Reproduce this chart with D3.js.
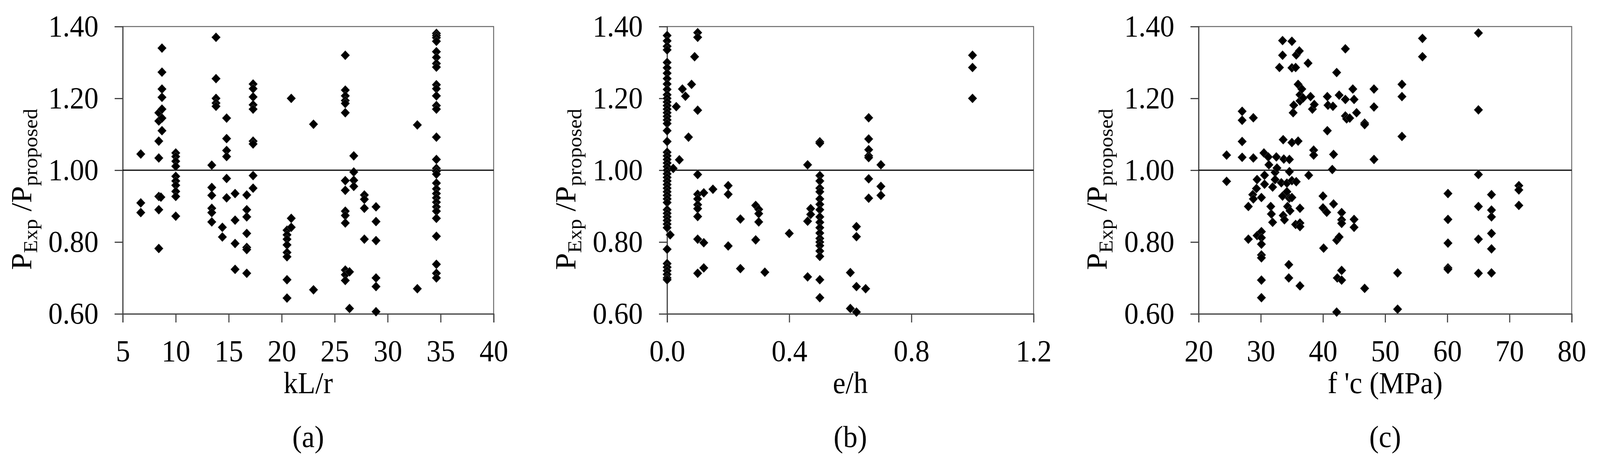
<!DOCTYPE html>
<html>
<head>
<meta charset="utf-8">
<script src="https://d3js.org/d3.v7.min.js"></script>
<style>
    html, body { margin: 0; padding: 0; background: #fff; overflow: hidden; width: 100%; height: 100%; }
    svg { display: block; width: 100vw; height: 100vh; }
    svg text { font-family: "Liberation Serif", "Times New Roman", serif; fill: #000; }
</style>
</head>
<body>
<svg id="chart" viewBox="0 0 4353 1186" preserveAspectRatio="none"></svg>
<script>
// ---- data: [x, ratio] ----
var ticksA = [5, 10, 15, 20, 25, 30, 35, 40];
var ticksB = [0.0, 0.4, 0.8, 1.2];
var ticksC = [20, 30, 40, 50, 60, 70, 80];
var ticksY = [0.6, 0.8, 1.0, 1.2, 1.4];

var pointsA = [
    [6.7, 1.045], [6.7, 0.909], [6.7, 0.882],
    [8.4, 1.081], [8.4, 1.034], [8.4, 0.927], [8.4, 0.89], [8.4, 0.782], [8.4, 1.16], [8.4, 1.137],
    [8.7, 1.34], [8.7, 1.273], [8.7, 1.226], [8.7, 1.203], [8.7, 1.17], [8.7, 1.145], [8.7, 1.11], [8.6, 0.925],
    [10, 1.048], [10, 1.038], [10, 1.025], [10, 1.011], [10, 0.983], [10, 0.97], [10, 0.958], [10, 0.941], [10, 0.927], [10, 0.872],
    [13.4, 1.014], [13.4, 0.952], [13.4, 0.93], [13.4, 0.894], [13.4, 0.882], [13.4, 0.856],
    [13.8, 1.37], [13.8, 1.255], [13.8, 1.2], [13.8, 1.187], [13.8, 1.178],
    [14.4, 0.841], [14.4, 0.814],
    [14.8, 1.145], [14.8, 1.088], [14.8, 1.055], [14.8, 1.038], [14.8, 0.977], [14.8, 0.923],
    [15.6, 0.935], [15.6, 0.861], [15.6, 0.796], [15.6, 0.724],
    [16.7, 0.931], [16.7, 0.89], [16.7, 0.87], [16.7, 0.824], [16.7, 0.785], [16.7, 0.779], [16.7, 0.713],
    [17.3, 1.24], [17.3, 1.227], [17.3, 1.204], [17.3, 1.182], [17.3, 1.17], [17.3, 1.081], [17.3, 1.073], [17.3, 0.985], [17.3, 0.95],
    [20.5, 0.833], [20.5, 0.82], [20.5, 0.808], [20.5, 0.792], [20.5, 0.771], [20.5, 0.759], [20.5, 0.695], [20.5, 0.644],
    [20.9, 1.2], [20.9, 0.866], [20.9, 0.841],
    [23, 1.128], [23, 0.667],
    [26, 1.32], [26, 1.223], [26, 1.207], [26, 1.194], [26, 1.186], [26, 1.16], [26, 0.971], [26, 0.944], [26, 0.886], [26, 0.874], [26, 0.853], [26, 0.722], [26, 0.709], [26, 0.693],
    [26.4, 0.717], [26.4, 0.615],
    [26.8, 1.04], [26.8, 0.995], [26.8, 0.972], [26.8, 0.955],
    [27.8, 0.931], [27.8, 0.919], [27.8, 0.894], [27.8, 0.808],
    [28.9, 0.898], [28.9, 0.857], [28.9, 0.804], [28.9, 0.7], [28.9, 0.676], [28.9, 0.606],
    [32.8, 1.126], [32.8, 0.67],
    [34.6, 1.381], [34.6, 1.375], [34.6, 1.369], [34.6, 1.359], [34.6, 1.33], [34.6, 1.314], [34.6, 1.297], [34.6, 1.287],
    [34.6, 1.238], [34.6, 1.227], [34.6, 1.207], [34.6, 1.18], [34.6, 1.17], [34.6, 1.092], [34.6, 1.03], [34.6, 1.005],
    [34.6, 0.997], [34.6, 0.989], [34.6, 0.964], [34.6, 0.948], [34.6, 0.935], [34.6, 0.923], [34.6, 0.911], [34.6, 0.898],
    [34.6, 0.886], [34.6, 0.866], [34.6, 0.816], [34.6, 0.738], [34.6, 0.713], [34.6, 0.7]
];

var pointsB = [
    [0, 1.375], [0, 1.36], [0, 1.345], [0, 1.335], [0, 1.30], [0, 1.285], [0, 1.27], [0, 1.255], [0, 1.24], [0, 1.225],
    [0, 1.21], [0, 1.20], [0, 1.19], [0, 1.18], [0, 1.17], [0, 1.16], [0, 1.15], [0, 1.14], [0, 1.13], [0, 1.11],
    [0, 1.08], [0, 1.05], [0, 1.04], [0, 1.03], [0, 1.02], [0, 1.01], [0, 1.00], [0, 0.99], [0, 0.98], [0, 0.97],
    [0, 0.96], [0, 0.95], [0, 0.94], [0, 0.93], [0, 0.92], [0, 0.91], [0, 0.89], [0, 0.88], [0, 0.87], [0, 0.86],
    [0, 0.85], [0, 0.84], [0, 0.78], [0, 0.74], [0, 0.73], [0, 0.72], [0, 0.71], [0, 0.70], [0, 0.695],
    [0.01, 0.82], [0.02, 1.005], [0.03, 1.177], [0.04, 1.029], [0.05, 1.226], [0.06, 1.206], [0.07, 1.092], [0.08, 1.239], [0.09, 1.316],
    [0.1, 1.383], [0.1, 1.37], [0.1, 1.167], [0.1, 0.988], [0.1, 0.933], [0.1, 0.92], [0.1, 0.904], [0.1, 0.893], [0.1, 0.871], [0.1, 0.808], [0.1, 0.713],
    [0.12, 0.937], [0.12, 0.798], [0.12, 0.728],
    [0.15, 0.947],
    [0.2, 0.957], [0.2, 0.933], [0.2, 0.789],
    [0.24, 0.864], [0.24, 0.726],
    [0.29, 0.902], [0.29, 0.806],
    [0.3, 0.891], [0.3, 0.879], [0.3, 0.856],
    [0.32, 0.716],
    [0.4, 0.824],
    [0.46, 1.015], [0.46, 0.858], [0.46, 0.703],
    [0.47, 0.893], [0.47, 0.877],
    [0.5, 1.079], [0.5, 1.075], [0.5, 0.985], [0.5, 0.97], [0.5, 0.95], [0.5, 0.94], [0.5, 0.92], [0.5, 0.905], [0.5, 0.89], [0.5, 0.87],
    [0.5, 0.855], [0.5, 0.84], [0.5, 0.825], [0.5, 0.81], [0.5, 0.80], [0.5, 0.79], [0.5, 0.775], [0.5, 0.76], [0.5, 0.695], [0.5, 0.645],
    [0.6, 0.715], [0.6, 0.615],
    [0.62, 0.843], [0.62, 0.815], [0.62, 0.676], [0.62, 0.605],
    [0.65, 0.67],
    [0.66, 1.146], [0.66, 1.087], [0.66, 1.057], [0.66, 1.04], [0.66, 1.035], [0.66, 0.976], [0.66, 0.922],
    [0.7, 1.015], [0.7, 0.955], [0.7, 0.93],
    [1.0, 1.32], [1.0, 1.286], [1.0, 1.2]
];

var pointsC = [
    [24.5, 1.042], [24.5, 0.969],
    [27.0, 1.164], [27.0, 1.139], [27.0, 1.08], [27.0, 1.036],
    [28.0, 0.899], [28.0, 0.808],
    [28.8, 1.146], [28.8, 1.034], [28.7, 0.932], [28.8, 0.92],
    [29.4, 0.974], [29.3, 0.949], [29.4, 0.818],
    [30.1, 0.924], [30.1, 0.829], [30.1, 0.812], [30.1, 0.794], [30.1, 0.764], [30.1, 0.756], [30.1, 0.694], [30.1, 0.645],
    [30.5, 1.048], [30.6, 0.986], [30.6, 0.961],
    [31.2, 1.037], [31.3, 1.015], [31.6, 0.899], [31.7, 0.878], [31.9, 0.855], [31.9, 0.953],
    [32.3, 0.994], [32.3, 0.974], [32.5, 1.037], [32.6, 1.006],
    [33.0, 1.286], [33.3, 0.965],
    [33.5, 1.361], [33.5, 1.32], [33.6, 1.085], [33.7, 1.031], [33.5, 0.928], [33.6, 0.874], [33.8, 0.862],
    [34.2, 0.964], [34.2, 0.94], [34.3, 0.899],
    [34.5, 0.737], [34.5, 0.7], [34.6, 1.03], [34.6, 0.996], [34.6, 0.922], [34.7, 0.887],
    [35.0, 0.971], [35.0, 1.359], [35.0, 1.285], [35.0, 1.077], [35.0, 0.924], [35.2, 1.16], [35.3, 1.181],
    [35.6, 1.286], [35.7, 1.321], [35.7, 0.968], [35.6, 0.849],
    [36.0, 1.239], [36.0, 1.081], [36.2, 1.332], [36.3, 0.894], [36.3, 0.853], [36.3, 0.843], [36.3, 0.678], [36.3, 1.193], [36.3, 1.21],
    [36.6, 1.226], [36.8, 1.201],
    [37.6, 1.298], [37.7, 0.986],
    [38.0, 1.205], [38.3, 1.17], [38.6, 1.183], [38.5, 1.056], [38.5, 1.042],
    [40.0, 0.928], [40.0, 0.895], [40.1, 0.783],
    [40.6, 0.883], [40.7, 1.205], [40.7, 1.11], [40.8, 1.181],
    [41.6, 1.178], [41.5, 1.002], [41.7, 1.044], [41.7, 0.906],
    [42.2, 1.272], [42.2, 0.805], [42.2, 0.605], [42.3, 0.7],
    [42.6, 1.209], [42.6, 0.814], [43.0, 0.882], [43.0, 0.862], [43.0, 0.852], [43.0, 0.721], [43.0, 0.694],
    [43.6, 1.338], [43.6, 1.197], [43.6, 1.151], [43.8, 1.143],
    [44.3, 1.145],
    [44.8, 1.226], [45.0, 1.197], [45.0, 0.863], [45.0, 0.841],
    [45.4, 1.16],
    [46.7, 1.131], [46.7, 1.127], [46.7, 0.671],
    [48.2, 1.226], [48.2, 1.176], [48.2, 1.03],
    [52.0, 0.714], [52.0, 0.613],
    [52.7, 1.239], [52.7, 1.205], [52.7, 1.094],
    [56.0, 1.367], [56.0, 1.316],
    [60.1, 0.935], [60.1, 0.863], [60.1, 0.797], [60.1, 0.728], [60.1, 0.724],
    [65.0, 1.382], [65.0, 1.168], [65.0, 0.988], [65.0, 0.899], [65.0, 0.808], [65.0, 0.713],
    [67.1, 0.932], [67.1, 0.889], [67.1, 0.87], [67.1, 0.824], [67.1, 0.781], [67.1, 0.714],
    [71.5, 0.957], [71.5, 0.945], [71.5, 0.902]
];

var panels = [
    { left: 334, right: 1343, titleX: 85, xTicks: ticksA, dom: [5, 40], fmt: d3.format("d"), xLabel: "kL/r", tag: "(a)", pts: pointsA },
    { left: 1815, right: 2812, titleX: 1565, xTicks: ticksB, dom: [0, 1.2], fmt: d3.format(".1f"), xLabel: "e/h", tag: "(b)", pts: pointsB },
    { left: 3261, right: 4276, titleX: 3011, xTicks: ticksC, dom: [20, 80], fmt: d3.format("d"), xLabel: "f 'c (MPa)", tag: "(c)", pts: pointsC }
];

var plotTop = 68, plotBottom = 804, fs = 78;
var svg = d3.select("#chart");
var diamond = "M0,-12L12,0L0,12L-12,0Z";

panels.forEach(function (p) {
    var x = d3.scaleLinear().domain(p.dom).range([p.left, p.right]);
    var y = d3.scaleLinear().domain([0.6, 1.4]).range([plotBottom, plotTop]);
    var g = svg.append("g");

    // frame
    g.append("rect").attr("x", p.left).attr("y", plotTop)
        .attr("width", p.right - p.left).attr("height", plotBottom - plotTop)
        .attr("fill", "none").attr("stroke", "#666").attr("stroke-width", 2.5);

    // y axis
    var ya = g.append("g").attr("transform", "translate(" + p.left + ",0)")
        .call(d3.axisLeft(y).tickValues(ticksY).tickFormat(d3.format(".2f")).tickSize(22).tickPadding(44));
    ya.selectAll("line, path").attr("stroke", "#444").attr("stroke-width", 3);
    ya.selectAll("text").attr("font-size", fs).attr("font-family", "Liberation Serif");

    // x axis
    var xa = g.append("g").attr("transform", "translate(0," + plotBottom + ")")
        .call(d3.axisBottom(x).tickValues(p.xTicks).tickFormat(p.fmt).tickSize(22).tickPadding(44));
    xa.selectAll("line, path").attr("stroke", "#444").attr("stroke-width", 3);
    xa.selectAll("text").attr("font-size", fs).attr("font-family", "Liberation Serif");

    // reference line at 1.0
    g.append("line").attr("x1", p.left).attr("x2", p.right)
        .attr("y1", y(1)).attr("y2", y(1)).attr("stroke", "#000").attr("stroke-width", 3);

    // points
    g.selectAll("path.pt").data(p.pts).enter().append("path")
        .attr("class", "pt").attr("d", diamond)
        .attr("transform", function (d) { return "translate(" + x(d[0]) + "," + y(d[1]) + ")"; })
        .attr("fill", "#000").attr("stroke", "#555").attr("stroke-width", 1);

    // labels
    g.append("text").attr("x", (p.left + p.right) / 2).attr("y", 1007)
        .attr("text-anchor", "middle").attr("font-size", fs).text(p.xLabel);
    g.append("text").attr("x", (p.left + p.right) / 2).attr("y", 1145)
        .attr("text-anchor", "middle").attr("font-size", fs).text(p.tag);

    var t = g.append("text").attr("transform", "translate(" + p.titleX + ",485) rotate(-90)")
        .attr("text-anchor", "middle").attr("font-size", fs);
    t.append("tspan").text("P");
    t.append("tspan").attr("font-size", 54).attr("dy", 16).text("Exp");
    t.append("tspan").attr("dy", -16).text(" /P");
    t.append("tspan").attr("font-size", 54).attr("dy", 16).text("proposed");
});
</script>
</body>
</html>
